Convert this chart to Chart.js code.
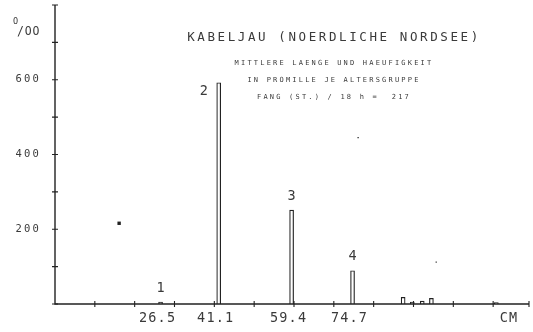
<!DOCTYPE html>
<html>
<head>
<meta charset="utf-8">
<script src="https://cdn.jsdelivr.net/npm/chart.js@4.4.1/dist/chart.umd.min.js"></script>
<style>
  html, body { margin: 0; padding: 0; background: #fff; }
  #wrap { width: 533px; height: 332px; }
</style>
</head>
<body>
<div id="wrap"><canvas id="chart"></canvas></div>
<script>
// Altersgruppen mit mittlerer Laenge (cm) und Anteil in Promille
const ageGroups = ['1', '2', '3', '4'];
const meanLength = [26.5, 41.1, 59.4, 74.7];
const perMille = [5, 592, 251, 89];

// restliche Laengenklassen ohne Beschriftung
const restLength = [87.4, 89.7, 92.2, 94.5, 110.8];
const restPerMille = [18, 5, 8, 15, 4];

// einzelne Plotterpunkte
const strayX = [16.1, 76.1, 95.7];
const strayY = [216, 445, 112];
const straySize = [2.4, 0.9, 0.8];

const yTickLabels = [200, 400, 600];
const title = 'KABELJAU (NOERDLICHE NORDSEE)';
const subtitle = ['MITTLERE LAENGE UND HAEUFIGKEIT', 'IN PROMILLE JE ALTERSGRUPPE', 'FANG (ST.) / 18 h =  217'];

const ink = '#222';
const textInk = '#3a3a3a';
const mono = '"DejaVu Sans Mono", monospace';

function text(ctx, s, x, y, size, spacing, align) {
  ctx.font = size + 'px ' + mono;
  ctx.letterSpacing = spacing + 'px';
  ctx.textAlign = align || 'left';
  ctx.fillText(s, x, y);
}

const plotter = {
  id: 'plotter',
  afterDatasetsDraw(chart) {
    const { ctx, scales: { x, y } } = chart;
    ctx.save();
    ctx.strokeStyle = ink;
    ctx.lineWidth = 1.4;

    // Achsen
    ctx.beginPath();
    ctx.moveTo(x.left, y.top);
    ctx.lineTo(x.left, y.bottom);
    ctx.lineTo(x.right, y.bottom);
    ctx.stroke();

    // Teilstriche quer ueber die Achsen
    ctx.lineWidth = 1.1;
    ctx.beginPath();
    y.ticks.forEach(t => {
      const py = y.getPixelForValue(t.value);
      ctx.moveTo(x.left - 3, py);
      ctx.lineTo(x.left + 3, py);
    });
    x.ticks.forEach(t => {
      if (t.value === 0) return;
      const px = x.getPixelForValue(t.value);
      ctx.moveTo(px, y.bottom - 3);
      ctx.lineTo(px, y.bottom + 3);
    });
    ctx.stroke();

    ctx.fillStyle = textInk;
    ctx.textBaseline = 'middle';

    // y-Beschriftung
    yTickLabels.forEach(v => {
      text(ctx, String(v), 41, y.getPixelForValue(v), 10.5, 2.2, 'right');
    });
    text(ctx, 'O', 13, 22, 8.5, 0);
    text(ctx, '/OO', 17, 32, 11.5, 0.8);

    // x-Beschriftung: mittlere Laengen
    meanLength.forEach(v => {
      text(ctx, v.toFixed(1), x.getPixelForValue(v) - 3, 318, 13.5, 1.2, 'center');
    });
    text(ctx, 'CM', 509, 318, 13.5, 1.2, 'center');

    // Nummern der Altersgruppen
    const bars = chart.getDatasetMeta(0).data;
    ageGroups.forEach((g, i) => {
      const b = bars[i];
      if (i === 1) text(ctx, g, b.x - 15, b.y + 9, 13.5, 0, 'center');
      else text(ctx, g, b.x, b.y - 14, 13.5, 0, 'center');
    });

    // Ueberschriften
    text(ctx, title, 334, 38, 12.5, 2.6, 'center');
    subtitle.forEach((s, i) => text(ctx, s, 334, 63 + i * 17, 7, 2.2, 'center'));

    ctx.restore();
  }
};

const barPoints = meanLength.map((v, i) => ({ x: v, y: perMille[i] }))
  .concat(restLength.map((v, i) => ({ x: v, y: restPerMille[i] })));

new Chart(document.getElementById('chart'), {
  type: 'bar',
  data: {
    datasets: [{
      data: barPoints,
      backgroundColor: '#fff',
      borderColor: ink,
      borderWidth: 1.2,
      barThickness: 4,
      grouped: false
    }, {
      type: 'scatter',
      data: strayX.map((v, i) => ({ x: v, y: strayY[i] })),
      pointStyle: 'rect',
      pointRadius: straySize,
      backgroundColor: ink,
      borderWidth: 0
    }]
  },
  options: {
    responsive: true,
    maintainAspectRatio: false,
    animation: false,
    layout: { padding: { top: 5, right: 0, left: 0, bottom: 0 } },
    plugins: { legend: { display: false }, tooltip: { enabled: false } },
    scales: {
      x: {
        type: 'linear',
        offset: false,
        min: 0,
        max: 119,
        ticks: { stepSize: 10, display: false },
        grid: { display: false, offset: false },
        border: { display: false },
        afterFit: s => { s.height = 28; }
      },
      y: {
        min: 0,
        max: 800,
        ticks: { stepSize: 100, display: false },
        grid: { display: false },
        border: { display: false },
        afterFit: s => { s.width = 55; }
      }
    }
  },
  plugins: [plotter]
});
</script>
</body>
</html>
